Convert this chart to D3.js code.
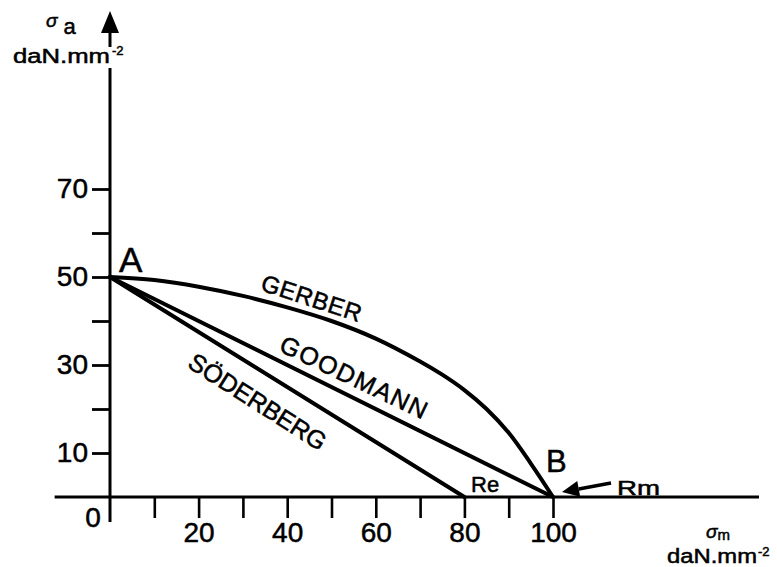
<!DOCTYPE html>
<html>
<head>
<meta charset="utf-8">
<script src="https://cdn.jsdelivr.net/npm/d3@7"></script>
<style>
  html, body { margin: 0; padding: 0; background: #fff; }
  svg { display: block; font-family: "Liberation Sans", Arial, Helvetica, sans-serif; }
  text { stroke: #000; stroke-width: 0.5px; }
</style>
</head>
<body>
<svg id="chart" width="777" height="567"></svg>
<script>
// ---- data ----
const gerberX = [0, 10, 20, 30, 40, 50, 60, 70, 75, 80, 85, 90, 95, 100];
const gerberY = [50, 49.3, 47.8, 45.7, 43.1, 40.0, 36.0, 30.8, 27.8, 24.3, 20.0, 14.6, 7.6, 0];
const goodmanX = [0, 100];
const goodmanY = [50, 0];
const soderbergX = [0, 80];
const soderbergY = [50, 0];
const xTickValues = [10, 20, 30, 40, 50, 60, 70, 80, 90, 100];
const xTickLabels = [20, 40, 60, 80, 100];
const yTickValues = [10, 20, 30, 40, 50, 60, 70];
const yTickLabels = [10, 30, 50, 70];
const curveLabels = ["GERBER", "GOODMANN", "SÖDERBERG"];

// ---- scales ----
const svg = d3.select("#chart");
const x = d3.scaleLinear().domain([0, 100]).range([110, 553]);
const y = d3.scaleLinear().domain([0, 70]).range([497, 189]);

const ink = "#000";

// ---- x axis ----
svg.append("line")
  .attr("x1", x(-12.5)).attr("x2", x(146.5))
  .attr("y1", y(0)).attr("y2", y(0))
  .attr("stroke", ink).attr("stroke-width", 3);

const xAxis = d3.axisBottom(x)
  .tickValues(xTickValues)
  .tickSize(21)
  .tickPadding(4)
  .tickFormat(d => xTickLabels.includes(d) ? d : "");
const gx = svg.append("g").attr("transform", `translate(0,${y(0)})`).call(xAxis);
gx.select(".domain").remove();
gx.selectAll(".tick line").attr("stroke", ink).attr("stroke-width", 2.6);
gx.selectAll(".tick text").attr("fill", ink).attr("font-size", 28)
  .attr("font-family", "'Liberation Sans', Arial, sans-serif");

// ---- y axis ----
svg.append("line")
  .attr("x1", x(0)).attr("x2", x(0))
  .attr("y1", 68).attr("y2", 522)
  .attr("stroke", ink).attr("stroke-width", 3);
svg.append("line")
  .attr("x1", x(0)).attr("x2", x(0))
  .attr("y1", 28).attr("y2", 47)
  .attr("stroke", ink).attr("stroke-width", 3);
svg.append("path")
  .attr("d", `M${x(0)},11 L${x(0) - 9},33 L${x(0) + 9},33 Z`)
  .attr("fill", ink);

const yAxis = d3.axisLeft(y)
  .tickValues(yTickValues)
  .tickSize(18)
  .tickPadding(4)
  .tickFormat(d => yTickLabels.includes(d) ? d : "");
const gy = svg.append("g").attr("transform", `translate(${x(0)},0)`).call(yAxis);
gy.select(".domain").remove();
gy.selectAll(".tick line").attr("stroke", ink).attr("stroke-width", 2.8);
gy.selectAll(".tick text").attr("fill", ink).attr("font-size", 28)
  .attr("font-family", "'Liberation Sans', Arial, sans-serif");

// origin label
svg.append("text").attr("x", x(0) - 17).attr("y", y(0) + 30)
  .attr("text-anchor", "middle").attr("font-size", 28).attr("fill", ink).text("0");

// ---- curves ----
const gerber = gerberX.map((v, i) => [v, gerberY[i]]);
const goodman = goodmanX.map((v, i) => [v, goodmanY[i]]);
const soderberg = soderbergX.map((v, i) => [v, soderbergY[i]]);

svg.append("path").datum(gerber)
  .attr("d", d3.line().x(d => x(d[0])).y(d => y(d[1])).curve(d3.curveCatmullRom.alpha(0.5)))
  .attr("fill", "none").attr("stroke", ink).attr("stroke-width", 4).attr("stroke-linecap", "round");
svg.append("path").datum(goodman)
  .attr("d", d3.line().x(d => x(d[0])).y(d => y(d[1])))
  .attr("fill", "none").attr("stroke", ink).attr("stroke-width", 4).attr("stroke-linecap", "round");
svg.append("path").datum(soderberg)
  .attr("d", d3.line().x(d => x(d[0])).y(d => y(d[1])))
  .attr("fill", "none").attr("stroke", ink).attr("stroke-width", 4).attr("stroke-linecap", "round");

// ---- curve labels ----
const labelSpecs = [
  { text: curveLabels[0], cx: 309, cy: 306, angle: 18, len: 104, fs: 24 },
  { text: curveLabels[1], cx: 350, cy: 385, angle: 25.5, len: 160, fs: 25 },
  { text: curveLabels[2], cx: 253, cy: 409, angle: 32.5, len: 158, fs: 25 }
];
labelSpecs.forEach(s => {
  svg.append("text")
    .attr("transform", `translate(${s.cx},${s.cy}) rotate(${s.angle})`)
    .attr("text-anchor", "middle")
    .attr("font-size", s.fs)
    .attr("fill", ink)
    .attr("textLength", s.len)
    .attr("lengthAdjust", "spacing")
    .text(s.text);
});

// ---- point labels ----
svg.append("text").attr("x", x(0) + 9).attr("y", y(50) - 5)
  .attr("font-size", 35).attr("fill", ink).text("A");
svg.append("text").attr("x", x(100) - 7).attr("y", y(0) - 25)
  .attr("font-size", 31).attr("fill", ink).text("B");
svg.append("text").attr("x", 471).attr("y", 492)
  .attr("font-size", 22).attr("fill", ink).text("Re");
svg.append("text").attr("x", 617).attr("y", 495)
  .attr("font-size", 20).attr("fill", ink)
  .attr("textLength", 43).attr("lengthAdjust", "spacingAndGlyphs").text("Rm");

// arrow to B
const tip = [x(100) + 9, y(0) - 5];
const tail = [611, 483];
const ang = Math.atan2(tail[1] - tip[1], tail[0] - tip[0]);
const hl = 17, hw = 8;
const bx = tip[0] + hl * Math.cos(ang), by = tip[1] + hl * Math.sin(ang);
svg.append("line").attr("x1", tail[0]).attr("y1", tail[1]).attr("x2", bx).attr("y2", by)
  .attr("stroke", ink).attr("stroke-width", 3.5);
svg.append("path")
  .attr("d", `M${tip[0]},${tip[1]} L${bx - hw * Math.sin(ang)},${by + hw * Math.cos(ang)} L${bx + hw * Math.sin(ang)},${by - hw * Math.cos(ang)} Z`)
  .attr("fill", ink);

// ---- axis titles ----
const yt = svg.append("text").attr("x", 46).attr("y", 27).attr("fill", ink);
yt.append("tspan").attr("font-size", 19).attr("font-style", "italic").text("σ");
yt.append("tspan").attr("font-size", 22).attr("dx", 6).attr("dy", 7).text("a");
svg.append("text").attr("x", 13).attr("y", 63).attr("font-size", 20).attr("fill", ink)
  .attr("textLength", 97).attr("lengthAdjust", "spacingAndGlyphs").text("daN.mm");
svg.append("text").attr("x", 112).attr("y", 55).attr("font-size", 13).attr("fill", ink).text("-2");

const xt = svg.append("text").attr("x", 706).attr("y", 538).attr("fill", ink);
xt.append("tspan").attr("font-size", 19).attr("font-style", "italic").text("σ");
xt.append("tspan").attr("font-size", 15).attr("dx", 0).attr("dy", 2).text("m");
svg.append("text").attr("x", 667).attr("y", 563).attr("font-size", 20).attr("fill", ink)
  .attr("textLength", 90).attr("lengthAdjust", "spacingAndGlyphs").text("daN.mm");
svg.append("text").attr("x", 758).attr("y", 556).attr("font-size", 13).attr("fill", ink).text("-2");
</script>
</body>
</html>
